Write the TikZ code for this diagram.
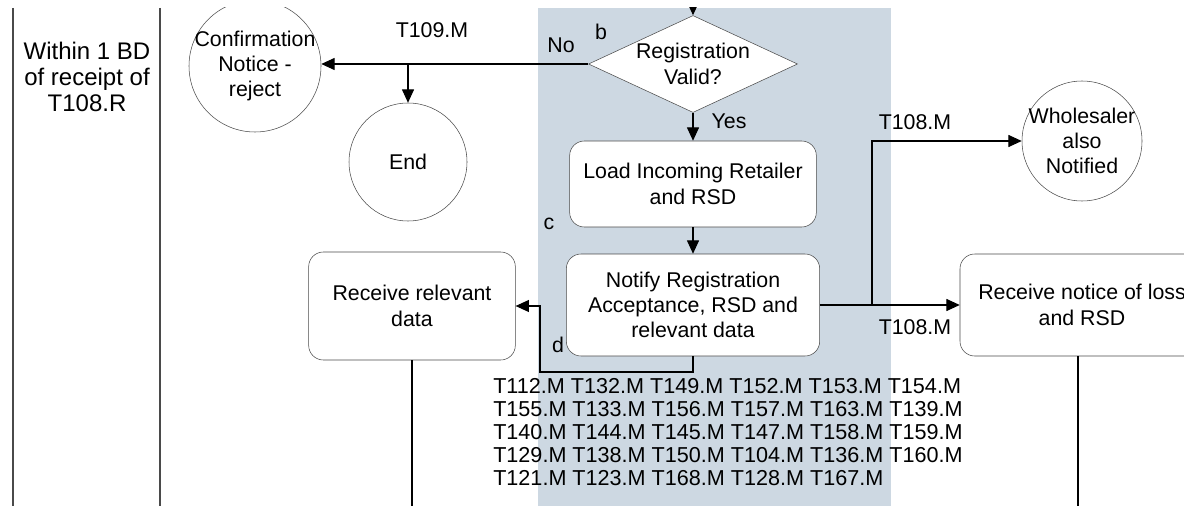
\documentclass[tikz,border=0pt]{standalone}
\usepackage{fontspec}
\setmainfont{Liberation Sans}
\usepackage{xcolor}
\usetikzlibrary{arrows.meta,positioning,shapes.geometric}
\definecolor{LaneShade}{HTML}{CDD8E2}
\definecolor{EdgeGrey}{HTML}{4A4A4A}

\begin{document}
\begin{tikzpicture}[
  x=0.75pt, y=-0.75pt,
  font=\fontsize{16}{19}\selectfont,
  proc/.style={draw=EdgeGrey, rounded corners=11pt, fill=white, align=center, inner sep=2pt},
  decision/.style={draw=EdgeGrey, diamond, shape aspect=2.155, fill=white, align=center, inner sep=0pt,
    minimum width=156.75pt, minimum height=72.75pt},
  terminal/.style={draw=EdgeGrey, circle, fill=white, align=center, inner sep=-6pt},
  tag/.style={inner sep=0pt},
  arrow/.style={-{Triangle[length=10pt, width=9pt]}, thick},
  line/.style={thick}
]
\useasboundingbox (0,0) rectangle (1184,506);
\clip (0,8) rectangle (1184,506);

% lanes
\fill[LaneShade] (538,8) rectangle (891,520);
\draw[line, EdgeGrey] (13,8) -- (13,520);
\draw[line, EdgeGrey] (160,8) -- (160,520);
\node[align=center, font=\fontsize{18}{19.5}\selectfont] (lane) at (87,77) {Within 1 BD\\of receipt of\\T108.R};

% nodes
\node[decision] (valid) at (693,64) {Registration\\Valid?};
\node[terminal, minimum size=99pt] (confirm) at (255,66) {Confirmation\\Notice -\\reject};
\node[terminal, minimum size=88.5pt] (end) at (408,162) {End};
\node[proc, minimum width=185pt, minimum height=64.5pt] (load) at (693,184) {Load Incoming Retailer\\and RSD};
\node[proc, minimum width=190pt, minimum height=76.5pt] (notify) at (693,305) {Notify Registration\\Acceptance, RSD and\\relevant data};
\node[proc, minimum width=155pt, minimum height=81pt] (recv) at (412,306) {Receive relevant\\data};
\node[proc, minimum width=183pt, minimum height=76.5pt] (notice) at (1082,305) {Receive notice of loss\\and RSD};
\node[terminal, minimum size=90pt] (whole) at (1082,141) {Wholesaler\\also\\Notified};
\node[tag, anchor=north west, align=left, font=\fontsize{16.2}{17.25}\selectfont] (tlist) at (493,378)
  {T112.M T132.M T149.M T152.M T153.M T154.M\\
   T155.M T133.M T156.M T157.M T163.M T139.M\\
   T140.M T144.M T145.M T147.M T158.M T159.M\\
   T129.M T138.M T150.M T104.M T136.M T160.M\\
   T121.M T123.M T168.M T128.M T167.M};

% labels
\node[tag] (t109) at (432,30) {T109.M};
\node[tag] (no) at (561,45) {No};
\node[tag] (b) at (601,32) {b};
\node[tag] (yes) at (729,121) {Yes};
\node[tag] (c) at (549,224) {c};
\node[tag] (d) at (558,345) {d};
\node[tag] (t108a) at (915,122) {T108.M};
\node[tag] (t108b) at (915,327) {T108.M};

% connectors
\coordinate (top) at (693,-10);
\coordinate (split) at (408,64);
\coordinate (dturn) at (540,372);
\coordinate (fork) at (872,305);
\draw[arrow] (top) -- (valid.north);
\draw[arrow] (valid.west) -- (valid.west -| confirm.east);
\draw[arrow] (split) -- (end.north);
\draw[arrow] (valid.south) -- (load.north);
\draw[arrow] (load.south) -- (notify.north);
\draw[arrow] (notify.south) |- (dturn) |- (recv.east);
\draw[arrow] (notify.east) -- (notice.west);
\draw[arrow] (fork) |- (whole.west);
\draw[line] (recv.south) -- ++(0,160);
\draw[line] (notice.south) ++(-4,0) -- ++(0,160);
\end{tikzpicture}
\end{document}
